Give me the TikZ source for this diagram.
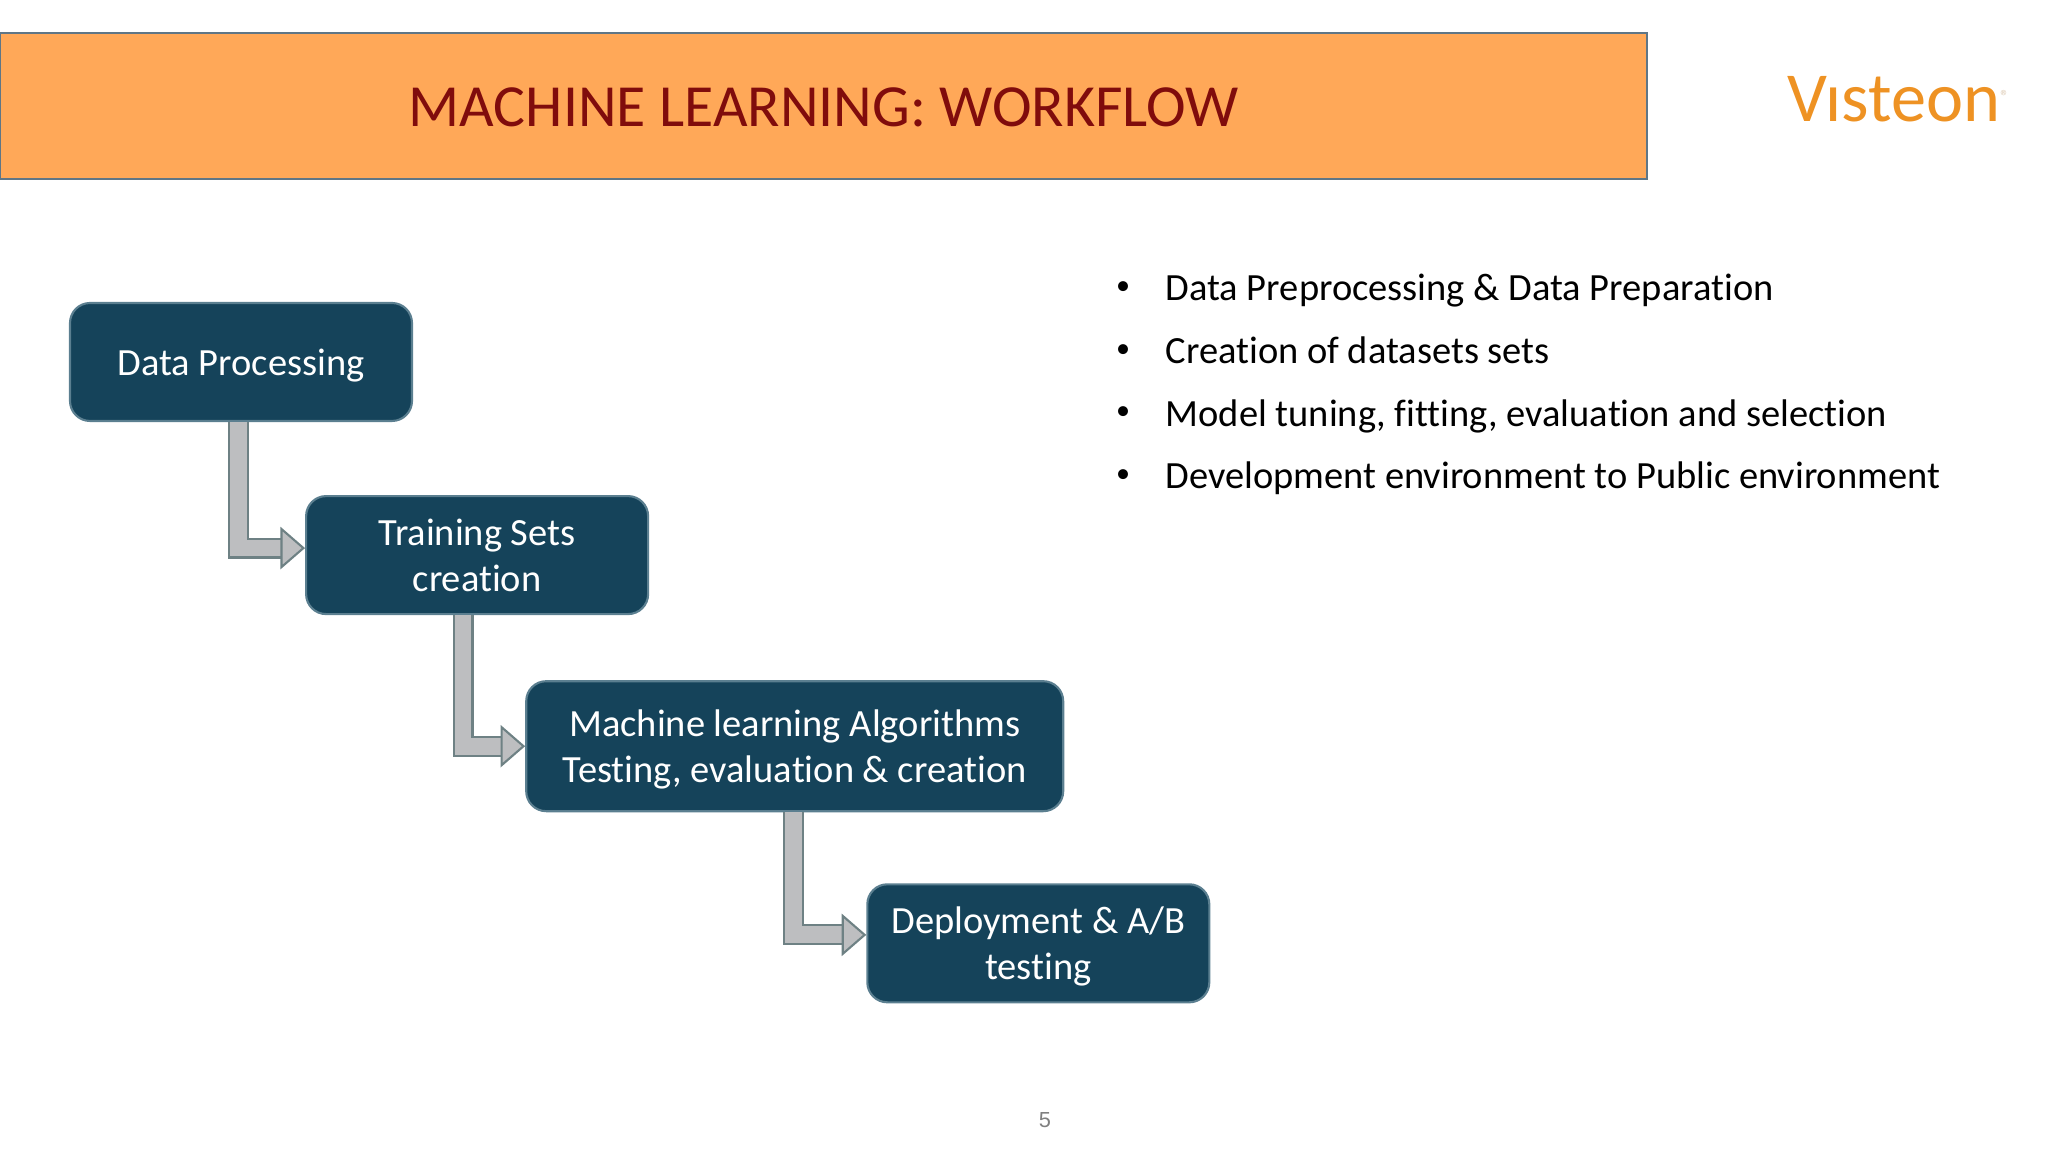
\documentclass[tikz,border=0pt]{standalone}
\usepackage{xcolor}
\usepackage{fontspec}
\setmainfont{Carlito}[Ligatures=NoCommon]
\newfontfamily\pagefont{Liberation Sans}
\usetikzlibrary{positioning, arrows.meta}
\definecolor{headerfill}{HTML}{FFA858}
\definecolor{headerline}{HTML}{5F7686}
\definecolor{titlered}{HTML}{800C0C}
\definecolor{boxfill}{HTML}{15435A}
\definecolor{boxline}{HTML}{5B7F90}
\definecolor{flowfill}{HTML}{BDBEC0}
\definecolor{flowline}{HTML}{6E8184}
\definecolor{logoorange}{HTML}{EE9223}
\definecolor{logomark}{HTML}{DDCBB5}
\definecolor{pagegray}{HTML}{808080}

\begin{document}
\begin{tikzpicture}[
    node distance=0.73cm and 1cm,
    stepbox/.style={rectangle, rounded corners=0.2cm, draw=boxline, line width=0.6pt, fill=boxfill, text=white, minimum width=3.42cm, minimum height=1.18cm, align=center, text depth=0pt, font=\fontsize{10.95}{13pt}\selectfont},
    flow/.style={draw=flowline, line width=0.6pt, double=flowfill, double distance=4.8pt, -{Triangle[length=7pt, width=12pt, line width=0.6pt, fill=flowfill]}},
    bullet/.style={inner sep=0pt, font=\fontsize{8}{10pt}\selectfont},
    point/.style={anchor=base west, inner sep=0pt, font=\fontsize{10.95}{13pt}\selectfont}
]
\useasboundingbox (0,0) rectangle (20.48,11.52);

% Header
\node[rectangle, draw=headerline, line width=0.6pt, fill=headerfill, minimum width=16.47cm, minimum height=1.46cm, text=titlered, text height=11.8pt, font=\fontsize{17}{20pt}\selectfont] (header) at (8.235,10.46) {MACHINE LEARNING: WORKFLOW};
\node[text=logoorange, anchor=base west, inner sep=0pt, font=\fontsize{20}{24pt}\selectfont] (logo) at (17.87,10.30) {Vısteon\raisebox{0.28em}{\textcolor{logomark}{\fontsize{5}{5}\selectfont ®}}};

% Steps
\node[stepbox, text height=7.5pt] (data) at (2.41,7.90) {Data Processing};
\node[stepbox, below right=0.73cm and -1.08cm of data] (training) {Training Sets\\creation};
\node[stepbox, minimum width=5.37cm, minimum height=1.30cm, below right=0.65cm and -1.24cm of training] (algorithms) {Machine learning Algorithms\\Testing, evaluation \& creation};
\node[stepbox, below right=0.71cm and -1.98cm of algorithms] (deployment) {Deployment \& A/B\\testing};

% Arrows
\draw[flow] ([xshift=-0.7pt]data.south) |- ([yshift=2pt]training.west);
\draw[flow] ([xshift=-4pt]training.south) |- (algorithms.west);
\draw[flow] ([xshift=-0.3pt]algorithms.south) |- ([yshift=2.4pt]deployment.west);

% Bullets
\node[point] (point1) at (11.65,8.51) {Data Preprocessing \& Data Preparation};
\node[point] (point2) at (11.65,7.883) {Creation of datasets sets};
\node[point] (point3) at (11.65,7.256) {Model tuning, fitting, evaluation and selection};
\node[point] (point4) at (11.65,6.63) {Development environment to Public environment};
\node[bullet, anchor=base] (dot1) at ([xshift=-0.42cm, yshift=0.065cm]point1.base west) {•};
\node[bullet, anchor=base] (dot2) at ([xshift=-0.42cm, yshift=0.065cm]point2.base west) {•};
\node[bullet, anchor=base] (dot3) at ([xshift=-0.42cm, yshift=0.065cm]point3.base west) {•};
\node[bullet, anchor=base] (dot4) at ([xshift=-0.42cm, yshift=0.065cm]point4.base west) {•};

% Page number
\node[text=pagegray, font=\pagefont\fontsize{6.2}{7pt}\selectfont] (page) at (10.45,0.32) {5};

\end{tikzpicture}
\end{document}
